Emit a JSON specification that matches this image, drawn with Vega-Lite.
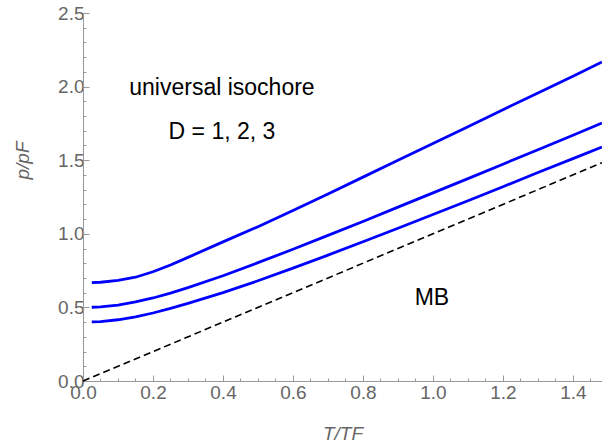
{
  "$schema": "https://vega.github.io/schema/vega-lite/v6.json",
  "width": 519,
  "height": 368,
  "autosize": {"type": "none"},
  "padding": {"left": 83, "top": 13, "right": 0, "bottom": 67},
  "background": "white",
  "config": {
    "view": {"stroke": null},
    "font": "Liberation Sans",
    "axis": {
      "labelOverlap": false,
      "labelBound": false,
      "labelFlush": false,
      "grid": false,
      "domainColor": "#999999",
      "tickColor": "#999999",
      "labelColor": "#666666",
      "labelFontSize": 19,
      "labelFont": "Liberation Sans",
      "titleColor": "#666666",
      "titleFont": "Liberation Sans",
      "titleFontSize": 19,
      "titleFontStyle": "italic",
      "titleFontWeight": "normal"
    }
  },
  "datasets": {
    "curves": [
      {"t": 0.025, "p": 0.668, "D": 1}, {"t": 0.05, "p": 0.671, "D": 1}, {"t": 0.1, "p": 0.684, "D": 1},
      {"t": 0.15, "p": 0.705, "D": 1}, {"t": 0.2, "p": 0.742, "D": 1}, {"t": 0.25, "p": 0.788, "D": 1},
      {"t": 0.3, "p": 0.84, "D": 1}, {"t": 0.4, "p": 0.945, "D": 1}, {"t": 0.5, "p": 1.048, "D": 1},
      {"t": 0.6, "p": 1.158, "D": 1}, {"t": 0.7, "p": 1.27, "D": 1}, {"t": 0.8, "p": 1.385, "D": 1},
      {"t": 0.9, "p": 1.499, "D": 1}, {"t": 1.0, "p": 1.613, "D": 1}, {"t": 1.1, "p": 1.728, "D": 1},
      {"t": 1.2, "p": 1.843, "D": 1}, {"t": 1.3, "p": 1.957, "D": 1}, {"t": 1.4, "p": 2.071, "D": 1},
      {"t": 1.483, "p": 2.167, "D": 1},
      {"t": 0.025, "p": 0.501, "D": 2}, {"t": 0.05, "p": 0.504, "D": 2}, {"t": 0.1, "p": 0.516, "D": 2},
      {"t": 0.15, "p": 0.537, "D": 2}, {"t": 0.2, "p": 0.564, "D": 2}, {"t": 0.25, "p": 0.597, "D": 2},
      {"t": 0.3, "p": 0.634, "D": 2}, {"t": 0.4, "p": 0.715, "D": 2}, {"t": 0.5, "p": 0.804, "D": 2},
      {"t": 0.6, "p": 0.895, "D": 2}, {"t": 0.7, "p": 0.989, "D": 2}, {"t": 0.8, "p": 1.084, "D": 2},
      {"t": 0.9, "p": 1.181, "D": 2}, {"t": 1.0, "p": 1.278, "D": 2}, {"t": 1.1, "p": 1.375, "D": 2},
      {"t": 1.2, "p": 1.473, "D": 2}, {"t": 1.3, "p": 1.571, "D": 2}, {"t": 1.4, "p": 1.67, "D": 2},
      {"t": 1.483, "p": 1.752, "D": 2},
      {"t": 0.025, "p": 0.401, "D": 3}, {"t": 0.05, "p": 0.404, "D": 3}, {"t": 0.1, "p": 0.416, "D": 3},
      {"t": 0.15, "p": 0.436, "D": 3}, {"t": 0.2, "p": 0.462, "D": 3}, {"t": 0.25, "p": 0.493, "D": 3},
      {"t": 0.3, "p": 0.527, "D": 3}, {"t": 0.4, "p": 0.6, "D": 3}, {"t": 0.5, "p": 0.681, "D": 3},
      {"t": 0.6, "p": 0.767, "D": 3}, {"t": 0.7, "p": 0.855, "D": 3}, {"t": 0.8, "p": 0.946, "D": 3},
      {"t": 0.9, "p": 1.038, "D": 3}, {"t": 1.0, "p": 1.131, "D": 3}, {"t": 1.1, "p": 1.225, "D": 3},
      {"t": 1.2, "p": 1.32, "D": 3}, {"t": 1.3, "p": 1.416, "D": 3}, {"t": 1.4, "p": 1.511, "D": 3},
      {"t": 1.483, "p": 1.59, "D": 3}
    ],
    "mb": [{"t": 0, "p": 0}, {"t": 1.483, "p": 1.483}],
    "one": [{}]
  },
  "resolve": {"axis": {"x": "independent", "y": "independent"}},
  "layer": [
    {
      "data": {"name": "mb"},
      "mark": {"type": "line", "color": "black", "strokeWidth": 1.6, "strokeDash": [7, 4]},
      "encoding": {
        "x": {
          "field": "t", "type": "quantitative",
          "scale": {"domain": [0, 1.483], "nice": false, "zero": false},
          "axis": {
            "orient": "bottom",
            "title": "T/TF",
            "values": [0, 0.2, 0.4, 0.6, 0.8, 1.0, 1.2, 1.4],
            "format": ".1f",
            "tickSize": -6,
            "labelPadding": 8,
            "titlePadding": 22
          }
        },
        "y": {
          "field": "p", "type": "quantitative",
          "scale": {"domain": [0, 2.5], "nice": false, "zero": false},
          "axis": {
            "orient": "left",
            "title": "p/pF",
            "values": [0, 0.5, 1.0, 1.5, 2.0, 2.5],
            "format": ".1f",
            "tickSize": -6,
            "labelPadding": 5,
            "titleX": -61,
            "titleY": 147,
            "titleBaseline": "middle",
            "titleAngle": -90
          }
        }
      }
    },
    {
      "data": {"name": "curves"},
      "mark": {"type": "line", "color": "#0000FF", "strokeWidth": 2.8},
      "encoding": {
        "x": {
          "field": "t", "type": "quantitative",
          "axis": {
            "orient": "bottom",
            "title": null,
            "labels": false,
            "domain": false,
            "tickSize": -3,
            "values": [0.05, 0.1, 0.15, 0.25, 0.3, 0.35, 0.45, 0.5, 0.55, 0.65, 0.7, 0.75, 0.85, 0.9, 0.95, 1.05, 1.1, 1.15, 1.25, 1.3, 1.35, 1.45]
          }
        },
        "y": {
          "field": "p", "type": "quantitative",
          "axis": {
            "orient": "left",
            "title": null,
            "labels": false,
            "domain": false,
            "tickSize": -3,
            "values": [0.1, 0.2, 0.3, 0.4, 0.6, 0.7, 0.8, 0.9, 1.1, 1.2, 1.3, 1.4, 1.6, 1.7, 1.8, 1.9, 2.1, 2.2, 2.3, 2.4]
          }
        },
        "detail": {"field": "D", "type": "nominal"}
      }
    },
    {
      "data": {"name": "one"},
      "mark": {"type": "text", "text": "universal isochore", "fontSize": 23, "font": "Liberation Sans", "color": "black", "align": "center", "baseline": "middle"},
      "encoding": {"x": {"datum": 0.397, "axis": null}, "y": {"datum": 1.99, "axis": null}}
    },
    {
      "data": {"name": "one"},
      "mark": {"type": "text", "text": "D = 1, 2, 3", "fontSize": 23, "font": "Liberation Sans", "color": "black", "align": "center", "baseline": "middle"},
      "encoding": {"x": {"datum": 0.397, "axis": null}, "y": {"datum": 1.69, "axis": null}}
    },
    {
      "data": {"name": "one"},
      "mark": {"type": "text", "text": "MB", "fontSize": 23, "font": "Liberation Sans", "color": "black", "align": "center", "baseline": "middle"},
      "encoding": {"x": {"datum": 0.997, "axis": null}, "y": {"datum": 0.563, "axis": null}}
    }
  ]
}
